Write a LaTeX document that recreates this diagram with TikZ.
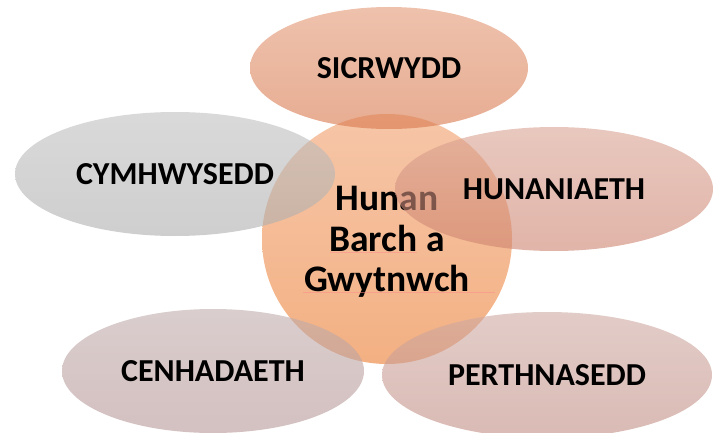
\documentclass[tikz,border=0pt]{standalone}
\usepackage{fontspec}
\setmainfont{Carlito}
\usetikzlibrary{shapes.geometric}
\definecolor{coreTop}{RGB}{246,198,168}
\definecolor{coreBot}{RGB}{243,176,130}
\definecolor{sicTop}{RGB}{227,152,117}
\definecolor{sicBot}{RGB}{215,118,74}
\definecolor{cymTop}{RGB}{192,192,192}
\definecolor{cymBot}{RGB}{174,174,174}
\definecolor{hunTop}{RGB}{217,163,147}
\definecolor{hunBot}{RGB}{205,130,110}
\definecolor{cenTop}{RGB}{193,172,172}
\definecolor{cenBot}{RGB}{183,150,150}
\definecolor{perTop}{RGB}{207,170,163}
\definecolor{perBot}{RGB}{193,140,130}
\begin{document}
\begin{tikzpicture}[x=1pt,y=-1pt,
  petal/.style={ellipse, inner sep=0pt, fill opacity=0.6, text opacity=1,
    font=\fontsize{32}{38}\selectfont\bfseries},
  coretextstyle/.style={align=center, inner sep=0pt,
    font=\fontsize{37.5}{40.5}\selectfont\bfseries},
  squiggle/.style={draw=red!45, line width=0.4pt, opacity=0.5}]
\useasboundingbox (0,0) rectangle (720,433);
\node[circle, minimum size=250pt, inner sep=0pt, top color=coreTop, bottom color=coreBot] (core) at (387,239) {};
\node[coretextstyle] (coretext) at (387,242) {Hunan\\Barch a\\Gwytnwch};
\draw[squiggle] (330,252) -- (417,252);
\draw[squiggle] (303,292) -- (495,292);
\node[petal, minimum width=278pt, minimum height=122pt, top color=sicTop, bottom color=sicBot] (sic) at (389,68) {SICRWYDD};
\node[petal, minimum width=320pt, minimum height=124pt, top color=cymTop, bottom color=cymBot] (cym) at (175,174) {CYMHWYSEDD};
\node[petal, minimum width=318pt, minimum height=124pt, top color=hunTop, bottom color=hunBot] (hun) at (554,189) {HUNANIAETH};
\node[petal, minimum width=302pt, minimum height=124pt, top color=cenTop, bottom color=cenBot] (cen) at (213,371) {CENHADAETH};
\node[petal, minimum width=330pt, minimum height=126pt, top color=perTop, bottom color=perBot] (per) at (547,375) {PERTHNASEDD};
\end{tikzpicture}
\end{document}
